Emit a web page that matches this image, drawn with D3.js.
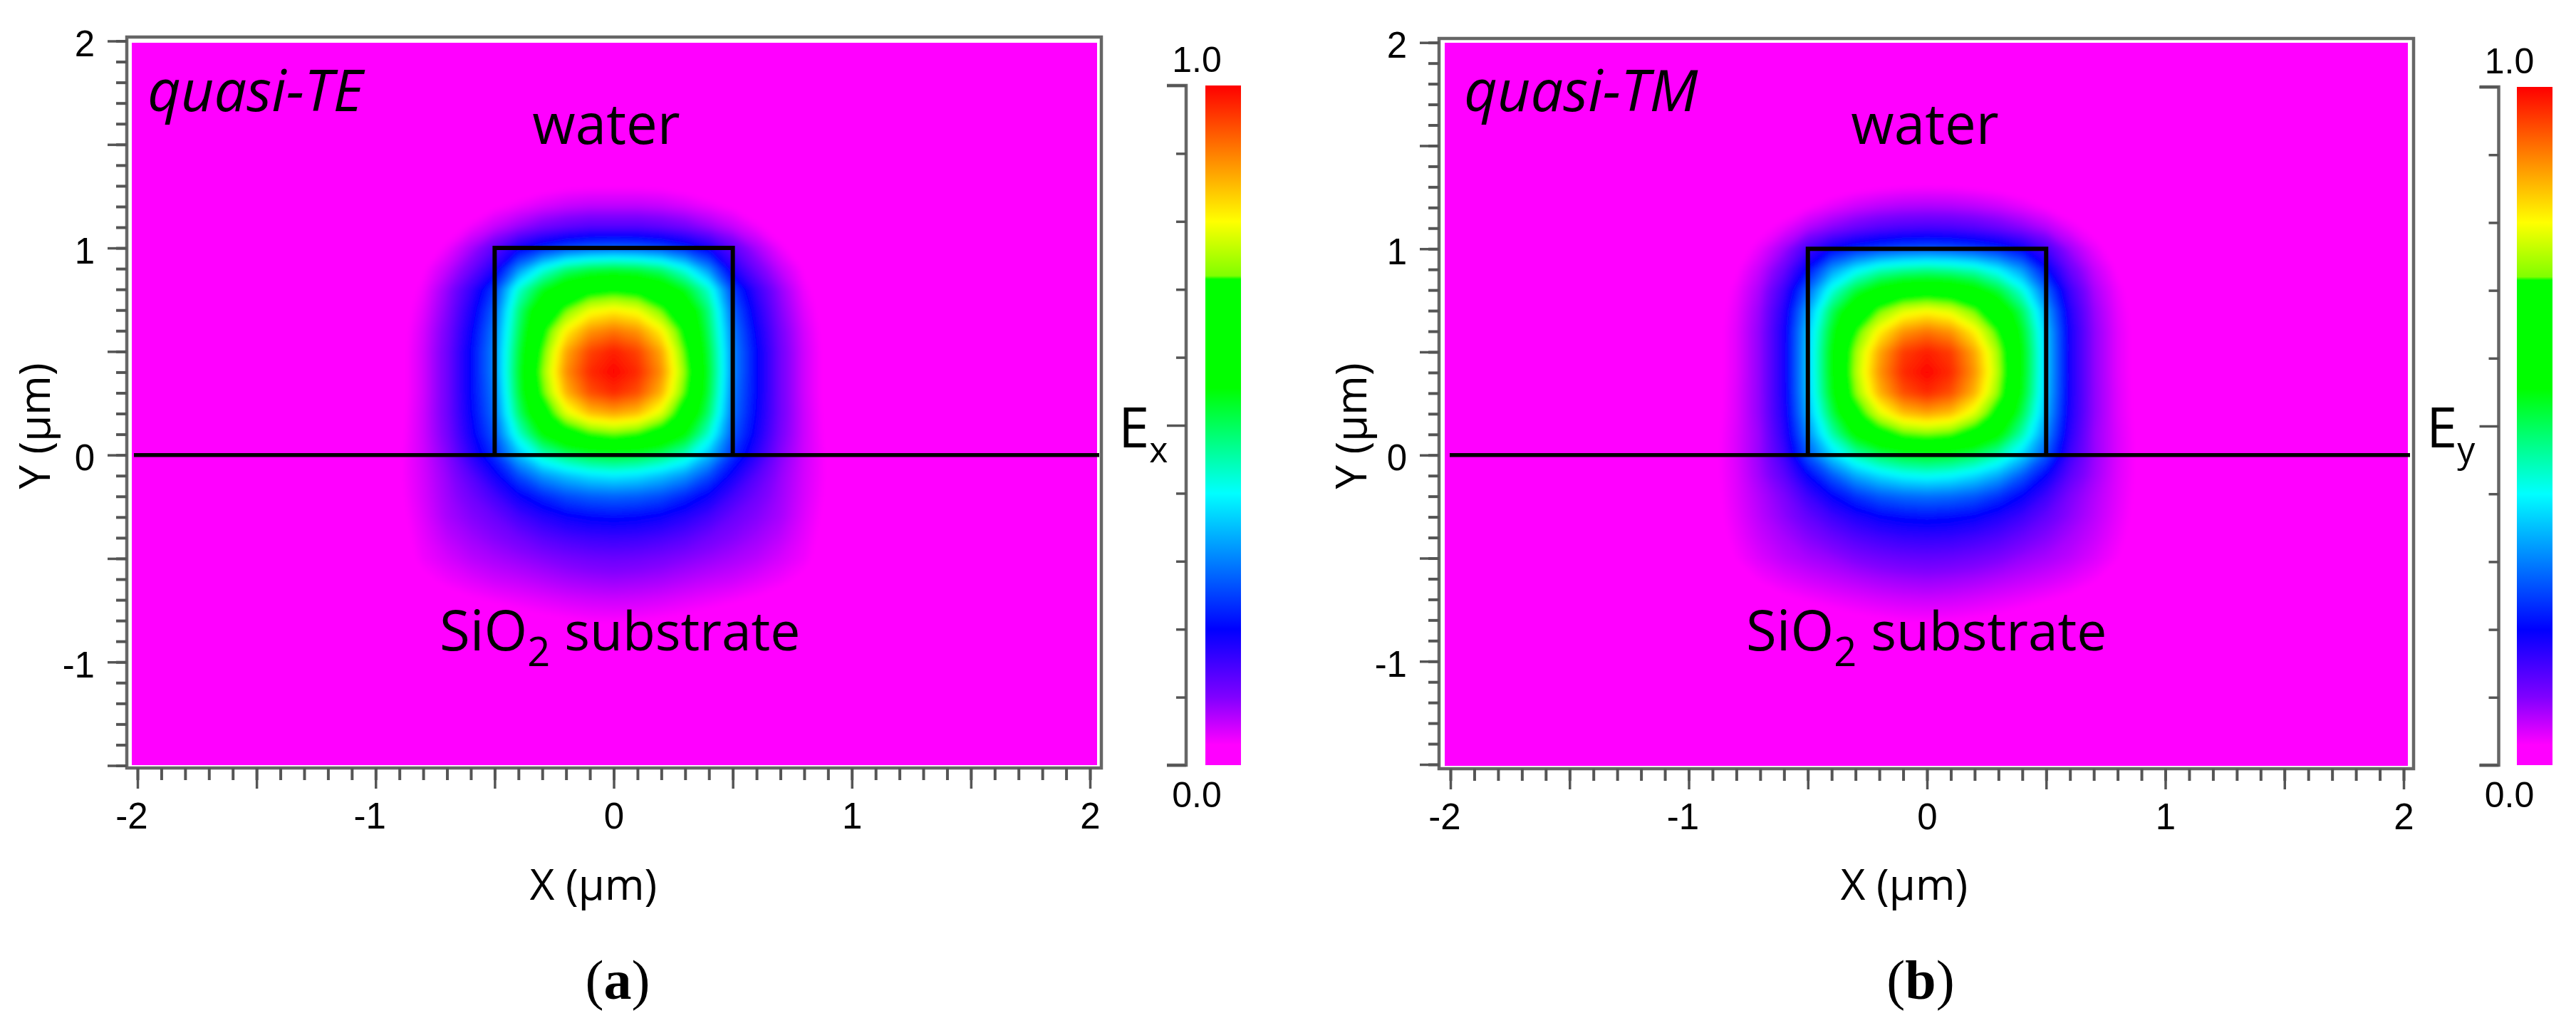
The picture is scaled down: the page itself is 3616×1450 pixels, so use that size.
<!DOCTYPE html>
<html>
<head>
<meta charset="utf-8">
<script src="https://cdn.jsdelivr.net/npm/d3@7"></script>
<style>
  html, body { margin: 0; padding: 0; background: #fff; }
  svg { display: block; }
  text { fill: #000; }
  .tick-label { font-family: "Liberation Sans", Arial, sans-serif; font-size: 51px; }
  .note { font-family: "Open Sans", sans-serif; font-size: 78px; }
</style>
</head>
<body>
<svg id="chart" width="3616" height="1450"></svg>
<script>
const xMajorTicks = [-2, -1.5, -1, -0.5, 0, 0.5, 1, 1.5, 2];
const yMajorTicks = [-1.5, -1, -0.5, 0, 0.5, 1, 1.5, 2];
const barTicks = [0, 0.1, 0.2, 0.3, 0.4, 0.5, 0.6, 0.7, 0.8, 0.9, 1];
const barLabels = ['0.0', '1.0'];

// colour bar
const colorPos = [0, 0.03, 0.1, 0.2, 0.4, 0.555, 0.715, 0.72, 0.8, 1];
const colorHex = ['#ff00ff', '#ff00ff', '#8000ff', '#0000ff', '#00ffff', '#00ff00', '#00ff00', '#80ff00', '#ffff00', '#ff0000'];

// field values, right half only (the mode is mirror symmetric)
const fieldX = [0, 0.1, 0.2, 0.3, 0.4, 0.5, 0.6, 0.7, 0.8, 0.9, 1.0, 1.1];
const fieldY = [1.5, 1.4, 1.3, 1.2, 1.1, 1.0, 0.9, 0.8, 0.7, 0.6, 0.5, 0.4, 0.3, 0.2, 0.1, 0, -0.1, -0.2, -0.3, -0.4, -0.5, -0.6, -0.7, -0.8, -0.9, -1.0, -1.1];
const fieldTE = [
  [0, 0, 0, 0, 0, 0, 0, 0, 0, 0, 0, 0],
  [.01, .01, .008, .005, .002, 0, 0, 0, 0, 0, 0, 0],
  [.03, .03, .028, .022, .016, .008, .003, 0, 0, 0, 0, 0],
  [.07, .07, .065, .055, .042, .03, .015, .007, .002, 0, 0, 0],
  [.14, .14, .13, .115, .09, .065, .04, .02, .006, .001, 0, 0],
  [.28, .275, .26, .23, .19, .13, .08, .04, .015, .004, 0, 0],
  [.52, .51, .48, .41, .31, .18, .115, .065, .03, .01, .002, 0],
  [.68, .665, .62, .54, .43, .25, .16, .09, .04, .015, .003, 0],
  [.81, .79, .72, .63, .48, .28, .18, .10, .048, .018, .004, 0],
  [.91, .885, .81, .68, .50, .30, .195, .11, .055, .02, .005, 0],
  [.98, .95, .87, .71, .52, .31, .205, .115, .058, .022, .005, 0],
  [1, .97, .89, .73, .53, .31, .205, .115, .058, .022, .005, 0],
  [.97, .94, .86, .71, .52, .30, .205, .115, .058, .022, .005, 0],
  [.87, .85, .78, .65, .49, .29, .20, .115, .06, .024, .006, 0],
  [.72, .70, .65, .56, .43, .27, .19, .11, .06, .026, .006, 0],
  [.53, .52, .49, .44, .35, .24, .17, .10, .058, .03, .008, 0],
  [.39, .38, .355, .32, .26, .19, .135, .09, .056, .03, .01, 0],
  [.28, .275, .26, .23, .195, .15, .115, .085, .054, .028, .01, 0],
  [.21, .205, .195, .175, .15, .12, .10, .08, .05, .025, .008, 0],
  [.16, .157, .148, .135, .115, .10, .085, .068, .045, .022, .006, 0],
  [.12, .117, .11, .10, .09, .08, .07, .055, .04, .018, .005, 0],
  [.09, .087, .082, .074, .066, .06, .05, .04, .028, .012, .002, 0],
  [.06, .058, .054, .048, .042, .036, .03, .022, .012, .004, 0, 0],
  [.035, .034, .03, .026, .02, .016, .012, .007, .003, 0, 0, 0],
  [.018, .017, .015, .012, .008, .005, .003, .001, 0, 0, 0, 0],
  [.006, .005, .004, .003, .002, .001, 0, 0, 0, 0, 0, 0],
  [0, 0, 0, 0, 0, 0, 0, 0, 0, 0, 0, 0],
];
const fieldTM = [
  [0, 0, 0, 0, 0, 0, 0, 0, 0, 0, 0, 0],
  [.012, .012, .01, .006, .003, .001, 0, 0, 0, 0, 0, 0],
  [.035, .034, .03, .025, .018, .01, .004, .001, 0, 0, 0, 0],
  [.08, .078, .072, .062, .048, .033, .018, .008, .002, 0, 0, 0],
  [.15, .147, .138, .122, .10, .075, .045, .024, .008, .002, 0, 0],
  [.27, .265, .25, .23, .20, .15, .085, .045, .018, .006, 0, 0],
  [.47, .46, .44, .39, .32, .21, .12, .065, .03, .012, .003, 0],
  [.64, .63, .59, .52, .42, .28, .155, .08, .04, .016, .004, 0],
  [.80, .78, .72, .63, .50, .33, .175, .09, .045, .018, .005, 0],
  [.91, .885, .81, .70, .54, .355, .185, .095, .048, .02, .005, 0],
  [.98, .955, .87, .74, .56, .36, .185, .095, .048, .02, .005, 0],
  [1, .97, .885, .75, .56, .36, .185, .095, .048, .02, .005, 0],
  [.97, .94, .86, .73, .55, .355, .185, .095, .05, .02, .005, 0],
  [.87, .85, .78, .67, .51, .34, .18, .095, .05, .022, .005, 0],
  [.725, .71, .66, .57, .45, .31, .17, .09, .052, .024, .006, 0],
  [.54, .53, .50, .45, .37, .27, .155, .09, .052, .026, .007, 0],
  [.41, .40, .375, .335, .27, .20, .13, .085, .05, .026, .008, 0],
  [.29, .285, .27, .24, .20, .155, .105, .075, .048, .024, .008, 0],
  [.215, .21, .20, .18, .155, .125, .095, .07, .045, .022, .006, 0],
  [.165, .162, .153, .14, .12, .10, .08, .062, .04, .02, .005, 0],
  [.125, .122, .115, .105, .09, .08, .068, .052, .034, .016, .004, 0],
  [.09, .087, .082, .074, .066, .058, .048, .036, .024, .01, .002, 0],
  [.06, .058, .054, .048, .042, .035, .028, .02, .011, .004, 0, 0],
  [.035, .034, .03, .026, .02, .016, .012, .007, .003, 0, 0, 0],
  [.018, .017, .015, .012, .008, .005, .003, .001, 0, 0, 0, 0],
  [.006, .005, .004, .003, .002, .001, 0, 0, 0, 0, 0, 0],
  [0, 0, 0, 0, 0, 0, 0, 0, 0, 0, 0, 0],
];

const svg = d3.select('#chart');
const defs = svg.append('defs');
const color = d3.scaleLinear().domain(colorPos).range(colorHex).clamp(true);
const tickColor = '#555';

defs.append('filter').attr('id', 'soft')
  .attr('filterUnits', 'userSpaceOnUse').attr('x', 0).attr('y', 0).attr('width', 3616).attr('height', 1450)
  .append('feGaussianBlur').attr('stdDeviation', 3.5);

function styleAxis(g, width) {
  g.select('.domain').remove();
  g.selectAll('.tick line').attr('stroke', tickColor).attr('stroke-width', width);
  g.selectAll('.tick text').attr('class', 'tick-label');
}

function drawPanel(p) {
  const root = svg.append('g');
  const x = d3.scaleLinear([-2, 2], p.xRange);
  const y = d3.scaleLinear([-1.5, 2], p.yRange);

  // field
  const clipId = `clip-${p.key}`;
  defs.append('clipPath').attr('id', clipId).append('rect')
    .attr('x', p.plot[0]).attr('y', p.plot[1]).attr('width', p.plot[2] - p.plot[0]).attr('height', p.plot[3] - p.plot[1]);
  const xs = [...fieldX.slice(1).reverse().map((d) => -d), ...fieldX];
  const values = p.field.flatMap((row) => [...row.slice(1).reverse(), ...row]);
  const levels = d3.range(0.005, 1, 0.005);
  const contours = d3.contours().size([xs.length, fieldY.length]).thresholds(levels)(values);
  const stepX = fieldX[1] - fieldX[0];
  const stepY = fieldY[0] - fieldY[1];
  const project = d3.geoTransform({
    point(cx, cy) {
      this.stream.point(x(xs[0] + (cx - 0.5) * stepX), y(fieldY[0] - (cy - 0.5) * stepY));
    },
  });
  const path = d3.geoPath(project);
  const fieldG = root.append('g').attr('clip-path', `url(#${clipId})`).append('g').attr('filter', 'url(#soft)');
  fieldG.append('rect').attr('x', p.plot[0] - 20).attr('y', p.plot[1] - 20)
    .attr('width', p.plot[2] - p.plot[0] + 40).attr('height', p.plot[3] - p.plot[1] + 40).attr('fill', color(0));
  fieldG.selectAll('path').data(contours).join('path')
    .attr('d', path).attr('fill', (d) => color(d.value));

  // waveguide and substrate lines
  root.append('line').attr('x1', p.lineStart).attr('x2', p.plot[2] + 3).attr('y1', y(0)).attr('y2', y(0))
    .attr('stroke', '#000').attr('stroke-width', 5.5);
  root.append('path')
    .attr('d', `M${x(-0.5)},${y(0)}V${y(1)}H${x(0.5)}V${y(0)}`)
    .attr('fill', 'none').attr('stroke', '#000').attr('stroke-width', 6).attr('stroke-linejoin', 'miter');

  // frame
  root.append('rect').attr('x', p.frame[0]).attr('y', p.frame[1])
    .attr('width', p.frame[2] - p.frame[0]).attr('height', p.frame[3] - p.frame[1])
    .attr('fill', 'none').attr('stroke', '#666').attr('stroke-width', 4.5);

  // axes
  root.append('g').attr('transform', `translate(0,${p.frame[3]})`)
    .call(d3.axisBottom(x).tickValues(d3.range(-2, 2.01, 0.1)).tickSize(17).tickFormat(''))
    .call(styleAxis, 4);
  const xAxisG = root.append('g').attr('transform', `translate(0,${p.frame[3]})`)
    .call(d3.axisBottom(x).tickValues(xMajorTicks).tickSize(29).tickPadding(20)
      .tickFormat((d) => (Number.isInteger(d) ? String(d) : '')))
    .call(styleAxis, 3.5);
  xAxisG.selectAll('.tick text').attr('dx', (d) => (d < 0 ? -8.5 : 0));

  root.append('g').attr('transform', `translate(${p.frame[0]},0)`)
    .call(d3.axisLeft(y).tickValues(d3.range(-1.5, 2.01, 0.1)).tickSize(15).tickFormat(''))
    .call(styleAxis, 4);
  const yAxisG = root.append('g').attr('transform', `translate(${p.frame[0]},0)`)
    .call(d3.axisLeft(y).tickValues(yMajorTicks).tickSize(27).tickPadding(18)
      .tickFormat((d) => (Number.isInteger(d) ? String(d) : '')))
    .call(styleAxis, 3.5);
  yAxisG.selectAll('.tick text').attr('dy', 21);

  // axis titles
  root.append('text').attr('class', 'note').attr('x', p.xTitle).attr('y', 1263)
    .attr('text-anchor', 'middle').style('font-size', '60px').text('X (μm)');
  root.append('text').attr('class', 'note')
    .attr('transform', `translate(${p.yTitle},598) rotate(-90)`)
    .attr('text-anchor', 'middle').style('font-size', '60px').text('Y (μm)');

  // notes inside the plot
  root.append('text').attr('class', 'note').attr('x', p.modeX).attr('y', 156)
    .style('font-style', 'italic').style('font-size', '81px').text(p.mode);
  root.append('text').attr('class', 'note').attr('x', p.waterX).attr('y', 202)
    .attr('text-anchor', 'middle').text('water');
  const sub = root.append('text').attr('class', 'note').attr('x', p.subX).attr('y', 913);
  sub.append('tspan').text('SiO');
  sub.append('tspan').attr('dy', 22).style('font-size', '56px').text('2');
  sub.append('tspan').attr('dy', -22).attr('dx', 20).style('font-size', '75px').text('substrate');

  // colour bar
  const bar = d3.scaleLinear([0, 1], p.barYRange);
  const gradId = `grad-${p.key}`;
  defs.append('linearGradient').attr('id', gradId).attr('gradientUnits', 'userSpaceOnUse')
    .attr('x1', 0).attr('x2', 0).attr('y1', bar(0)).attr('y2', bar(1))
    .selectAll('stop').data(colorPos).join('stop')
    .attr('offset', (d) => d).attr('stop-color', (d, i) => colorHex[i]);
  root.append('rect').attr('x', p.barX[0]).attr('y', bar(1)).attr('width', p.barX[1] - p.barX[0])
    .attr('height', bar(0) - bar(1)).attr('fill', `url(#${gradId})`);
  const barG = root.append('g').attr('transform', `translate(${p.barAxisX},0)`)
    .call(d3.axisLeft(bar).tickValues(barTicks)
      .tickSize(14).tickFormat(''))
    .call((g) => g.select('.domain').attr('stroke', '#666').attr('stroke-width', 4.5))
    .call((g) => g.selectAll('.tick line').attr('stroke', tickColor).attr('stroke-width', 3.5)
      .attr('x2', (d) => (d === 0 || d === 0.5 || d === 1 ? -27 : -14)));
  barG.select('.domain').attr('d', `M-27,${bar(1)}H0V${bar(0)}H-27`).attr('fill', 'none');
  root.selectAll(`.bar-label-${p.key}`).data(barLabels).join('text')
    .attr('class', 'tick-label').style('font-size', '50px')
    .attr('x', p.barAxisX + 15).attr('text-anchor', 'middle')
    .attr('y', (d) => (d === '1.0' ? bar(1) - 19 : bar(0) + 59))
    .text((d) => d);

  // field name next to the bar
  const name = root.append('text').attr('class', 'note').attr('x', p.nameX).attr('y', 628);
  name.append('tspan').text('E');
  name.append('tspan').attr('dy', 21).style('font-size', '50px').text(p.nameSub);

  // panel letter
  const cap = root.append('text').attr('x', p.capX).attr('y', 1402).attr('text-anchor', 'middle')
    .style('font-family', '"Liberation Serif", serif').style('font-size', '78px');
  cap.append('tspan').text('(');
  cap.append('tspan').style('font-weight', 'bold').text(p.letter);
  cap.append('tspan').text(')');
}

drawPanel({
  key: 'a', field: fieldTE, mode: 'quasi-TE', letter: 'a', nameSub: 'x',
  xRange: [193, 1530], yRange: [1074.5, 57.5],
  plot: [185, 60, 1540, 1074], frame: [178, 52, 1546, 1078], lineStart: 188,
  xTitle: 833, yTitle: 70, modeX: 207, waterX: 851, subX: 617,
  barYRange: [1074, 120], barX: [1692, 1742], barAxisX: 1665, nameX: 1570, capX: 867,
});
drawPanel({
  key: 'b', field: fieldTM, mode: 'quasi-TM', letter: 'b', nameSub: 'y',
  xRange: [2036, 3374], yRange: [1073, 59.7],
  plot: [2028, 60, 3380, 1075], frame: [2020, 54, 3388, 1079], lineStart: 2035,
  xTitle: 2673, yTitle: 1918, modeX: 2055, waterX: 2702, subX: 2451,
  barYRange: [1074, 122], barX: [3533, 3583], barAxisX: 3507.5, nameX: 3406, capX: 2696,
});
</script>
</body>
</html>
